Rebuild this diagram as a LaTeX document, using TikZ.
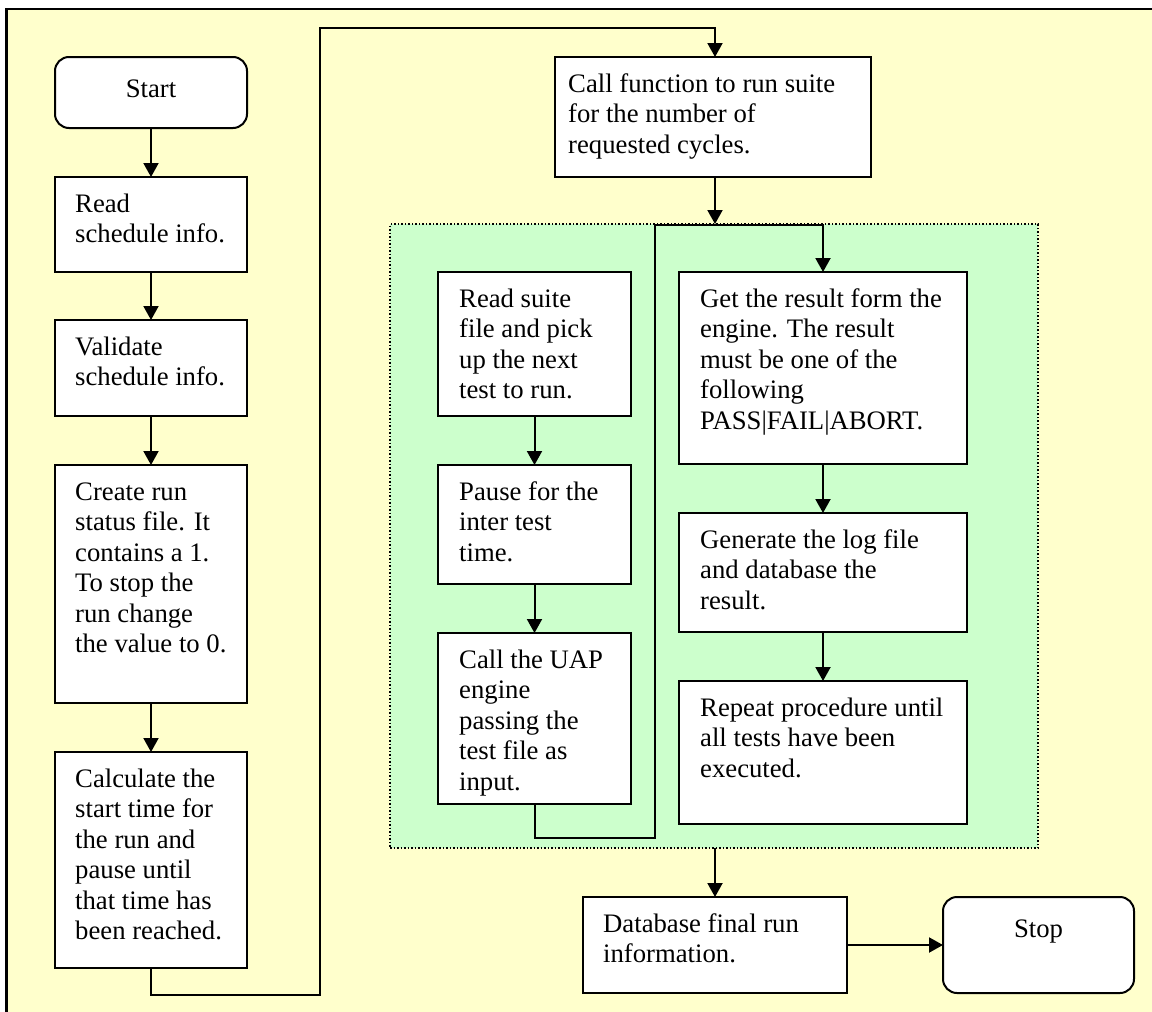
\documentclass[tikz,border=0pt]{standalone}
\usepackage{fontspec}
\setmainfont{Liberation Serif}
\usetikzlibrary{arrows.meta}
\definecolor{paper}{HTML}{FFFFCC}
\definecolor{zone}{HTML}{CCFFCC}
\tikzset{
  stepbox/.style={rectangle, draw=black, line width=2, fill=white, inner sep=0, outer sep=0},
  endbox/.style={stepbox, rounded corners=14},
  boxtext/.style={anchor=north west, align=left, inner sep=0, font=\fontsize{26.7}{30.5}\selectfont},
  endtext/.style={anchor=base, inner sep=0, font=\fontsize{26.7}{30.5}\selectfont},
  flow/.style={line width=2, -{Triangle[length=14,width=15]}},
}
\begin{document}
\begin{tikzpicture}[x=1pt,y=-1pt]
\useasboundingbox (0,0) rectangle (1152,1012);
% page background and frame
\fill[white] (0,0) rectangle (1152,1012);
\fill[paper] (6.5,9) rectangle (1152,1012);
\draw[line width=2.5] (6.5,1012) -- (6.5,9) -- (1152,9);

% inner loop zone
\node[rectangle, fill=zone, draw=black, line width=1.5, dotted, inner sep=0, outer sep=0,
      minimum width=648, minimum height=624] (zone) at (714,536) {};

% left column
\node[endbox, minimum width=192, minimum height=71] (start) at (151,92.5) {};
\node[endtext] (start-t) at ([shift={(0,40)}]start.north) {Start};

\node[stepbox, minimum width=192, minimum height=95] (read) at (151,224.5) {};
\node[boxtext] (read-t) at ([shift={(20,13.5)}]read.north west) {\strut Read\\schedule info.};

\node[stepbox, minimum width=192, minimum height=96] (valid) at (151,368) {};
\node[boxtext] (valid-t) at ([shift={(20,13.5)}]valid.north west) {\strut Validate\\schedule info.};

\node[stepbox, minimum width=192, minimum height=238] (create) at (151,584) {};
\node[boxtext] (create-t) at ([shift={(20,13.5)}]create.north west)
  {\strut Create run\\status file. It\\contains a 1.\\To stop the\\run change\\the value to 0.};

\node[stepbox, minimum width=192, minimum height=216] (calc) at (151,860) {};
\node[boxtext] (calc-t) at ([shift={(20,13.5)}]calc.north west)
  {\strut Calculate the\\start time for\\the run and\\pause until\\that time has\\been reached.};

% top box
\node[stepbox, minimum width=316, minimum height=120] (call) at (713,117) {};
\node[boxtext] (call-t) at ([shift={(13,13.5)}]call.north west)
  {\strut Call function to run suite\\for the number of\\requested cycles.};

% middle column inside the zone
\node[stepbox, minimum width=193, minimum height=144] (suite) at (534.5,344) {};
\node[boxtext] (suite-t) at ([shift={(21,13.5)}]suite.north west)
  {\strut Read suite\\file and pick\\up the next\\test to run.};

\node[stepbox, minimum width=193, minimum height=119] (pause) at (534.5,524.5) {};
\node[boxtext] (pause-t) at ([shift={(21,13.5)}]pause.north west)
  {\strut Pause for the\\inter test\\time.};

\node[stepbox, minimum width=193, minimum height=171] (uap) at (534.5,718.5) {};
\node[boxtext] (uap-t) at ([shift={(21,13.5)}]uap.north west)
  {\strut Call the UAP\\engine\\passing the\\test file as\\input.};

% right column inside the zone
\node[stepbox, minimum width=288, minimum height=192] (get) at (823,368) {};
\node[boxtext] (get-t) at ([shift={(21,13.5)}]get.north west)
  {\strut Get the result form the\\engine. The result\\must be one of the\\following\\PASS|FAIL|ABORT.};

\node[stepbox, minimum width=288, minimum height=119] (gen) at (823,572.5) {};
\node[boxtext] (gen-t) at ([shift={(21,13.5)}]gen.north west)
  {\strut Generate the log file\\and database the\\result.};

\node[stepbox, minimum width=288, minimum height=143] (rep) at (823,752.5) {};
\node[boxtext] (rep-t) at ([shift={(21,13.5)}]rep.north west)
  {\strut Repeat procedure until\\all tests have been\\executed.};

% bottom row
\node[stepbox, minimum width=264, minimum height=96] (db) at (715,945) {};
\node[boxtext] (db-t) at ([shift={(20,13.5)}]db.north west)
  {\strut Database final run\\information.};

\node[endbox, minimum width=191, minimum height=96] (stop) at (1038.5,945) {};
\node[endtext] (stop-t) at ([shift={(0,40)}]stop.north) {Stop};

% routing points
\coordinate (r1) at (320,995);
\coordinate (r2) at (320,28);
\coordinate (r3) at (715,28);
\coordinate (l1) at (655,838);
\coordinate (l2) at (655,225);
\coordinate (l3) at (823,225);

% connectors
\draw[flow] (start) -- (read);
\draw[flow] (read) -- (valid);
\draw[flow] (valid) -- (create);
\draw[flow] (create) -- (calc);
\draw[flow] (calc.south) |- (r1) -- (r2) -- (r3) -- (r3 |- call.north);
\draw[flow] (r3 |- call.south) -- (r3 |- zone.north);
\draw[flow] (suite) -- (pause);
\draw[flow] (pause) -- (uap);
\draw[flow] (uap.south) |- (l1) -- (l2) -- (l3) -- (get.north);
\draw[flow] (get) -- (gen);
\draw[flow] (gen) -- (rep);
\draw[flow] (zone.south -| db.north) -- (db.north);
\draw[flow] (db) -- (stop);
\end{tikzpicture}
\end{document}
